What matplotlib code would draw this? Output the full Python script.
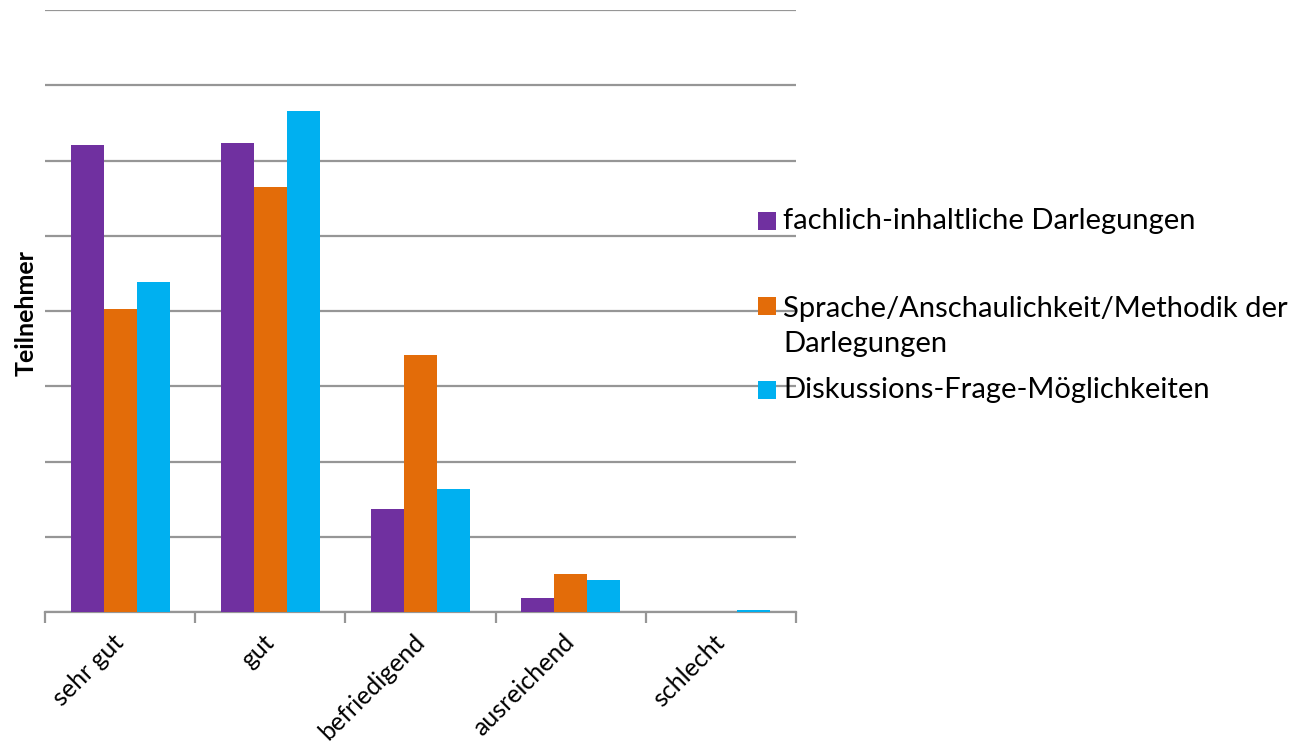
import matplotlib
matplotlib.use("Agg")
from matplotlib import pyplot as plt
from matplotlib.patches import Rectangle
import numpy as np

# Data (one grid step = 20)
categories = ["sehr gut", "gut", "befriedigend", "ausreichend", "schlecht"]
series_names = ["fachlich-inhaltliche Darlegungen",
                "Sprache/Anschaulichkeit/Methodik der\nDarlegungen",
                "Diskussions-Frage-Möglichkeiten"]
fachlich = [124, 124.6, 27.3, 3.7, 0]
sprache = [80.5, 113, 68.3, 10, 0]
diskussion = [87.7, 133.2, 32.7, 8.5, 0.6]
colors = ["#7030A0", "#E36C09", "#00B0F0"]

plt.rcParams['font.family'] = ['Lato', 'DejaVu Sans']

W, H = 1301, 747
fig = plt.figure(figsize=(W / 100, H / 100), dpi=100)
ax = fig.add_axes([45 / W, 1 - 612 / H, (796 - 45) / W, (612 - 10) / H])

x = np.arange(len(categories))
bw = 0.22
for i, vals in enumerate([fachlich, sprache, diskussion]):
    ax.bar(x + (i - 1) * bw, vals, bw, color=colors[i], linewidth=0, zorder=3)

ax.set_xlim(-0.5, 4.5)
ax.set_ylim(0, 160)
ax.set_yticks(np.arange(0, 161, 20))
ax.set_yticklabels([])
ax.tick_params(axis='y', length=0)
ax.yaxis.grid(True, color='#969696', linewidth=1.6)
ax.set_axisbelow(True)
for s in ['top', 'right', 'left']:
    ax.spines[s].set_visible(False)
ax.spines['bottom'].set_color('#969696')
ax.spines['bottom'].set_linewidth(1.6)

ax.set_xticks(x)
ax.set_xticklabels(categories, rotation=45, ha='right', va='center',
                   rotation_mode='anchor', fontsize=18)
ax.tick_params(axis='x', which='major', length=0, pad=19)
ax.set_xticks(np.arange(-0.5, 5, 1), minor=True)
ax.tick_params(axis='x', which='minor', length=8, width=1.6, color='#969696')

fig.text(26 / W, 1 - 312.5 / H, "Teilnehmer", rotation=90, ha='center',
         va='center', fontweight='bold', fontsize=18)

# legend drawn by hand to match the layout
leg_y = [220.5, 306, 390]
text_y = [220.5, 326.5, 390]
for i, name in enumerate(series_names):
    fig.patches.append(Rectangle((758 / W, 1 - (leg_y[i] + 9) / H), 18 / W, 18 / H,
                                 transform=fig.transFigure, facecolor=colors[i],
                                 linewidth=0, zorder=5))
    fig.text(783 / W, 1 - text_y[i] / H, name, ha='left', va='center',
             fontsize=21, linespacing=1.4, zorder=6)

fig.savefig("out.png", dpi=100)
